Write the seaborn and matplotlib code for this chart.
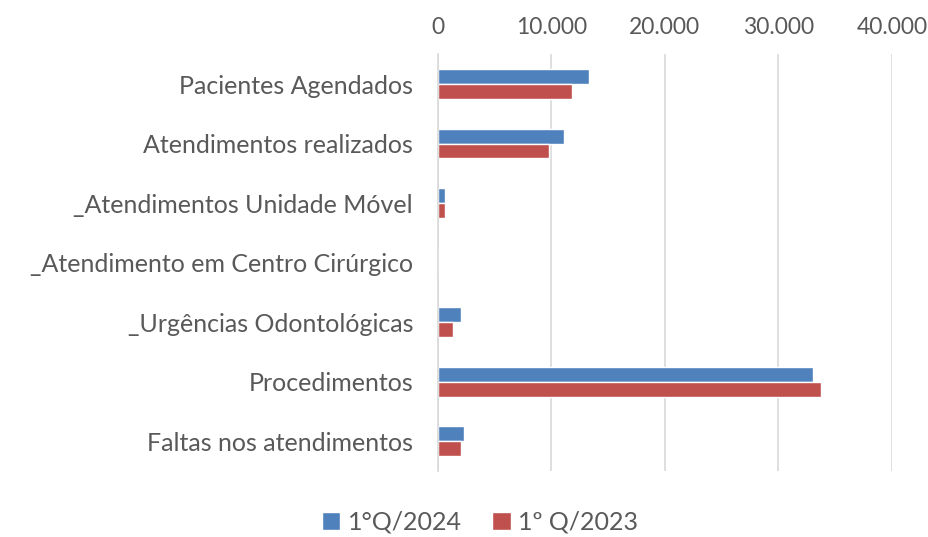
import matplotlib
matplotlib.use("Agg")
import matplotlib.pyplot as plt
import matplotlib.ticker as mticker
import pandas as pd
import seaborn as sns

categories = [
    "Pacientes Agendados",
    "Atendimentos realizados",
    "_Atendimentos Unidade Móvel",
    "_Atendimento em Centro Cirúrgico",
    "_Urgências Odontológicas",
    "Procedimentos",
    "Faltas nos atendimentos",
]
series_names = ["1°Q/2024", "1º Q/2023"]
q1_2024 = [13350, 11060, 640, 0, 1990, 33010, 2260]
q1_2023 = [11800, 9800, 580, 0, 1320, 33720, 1990]
x_ticks = [0, 10000, 20000, 30000, 40000]

colors = ["#4F81BD", "#C0504D"]
text_color = "#595959"

df = pd.DataFrame({
    "categoria": categories * 2,
    "serie": [series_names[0]] * len(categories) + [series_names[1]] * len(categories),
    "valor": q1_2024 + q1_2023,
})

sns.set_style("white")
plt.rcParams["font.family"] = ["Lato", "DejaVu Sans"]

fig = plt.figure(figsize=(9.29, 5.37), dpi=100)
ax = fig.add_axes([0.4715, 0.123, 0.4885, 0.776])

sns.barplot(data=df, y="categoria", x="valor", hue="serie", orient="h",
            palette=colors, saturation=1, width=0.5, gap=0, ax=ax, legend=True)

ax.set_xlim(0, 40000)
ax.set_xticks(x_ticks)
ax.xaxis.set_major_formatter(mticker.FuncFormatter(lambda v, p: f"{int(v):,}".replace(",", ".")))
ax.xaxis.tick_top()
ax.tick_params(axis="x", length=0, pad=12, labelsize=16.5, colors=text_color)
ax.tick_params(axis="y", length=0, pad=18, labelsize=18, colors=text_color)
ax.set_xlabel("")
ax.set_ylabel("")
ax.grid(axis="x", color="#d9d9d9", linewidth=1.2)
ax.set_axisbelow(True)
for side in ["top", "right", "bottom"]:
    ax.spines[side].set_visible(False)
ax.spines["left"].set_color("#d9d9d9")
ax.spines["left"].set_linewidth(1.2)

handles, labels = ax.get_legend_handles_labels()
ax.legend_.remove()
fig.legend(handles, labels, loc="center", bbox_to_anchor=(480 / 929, 1 - 522 / 537),
           ncol=2, frameon=False, fontsize=18, labelcolor=text_color,
           handlelength=0.75, handleheight=0.75, handletextpad=0.3, columnspacing=1.2)

fig.savefig("out.png", dpi=100)
